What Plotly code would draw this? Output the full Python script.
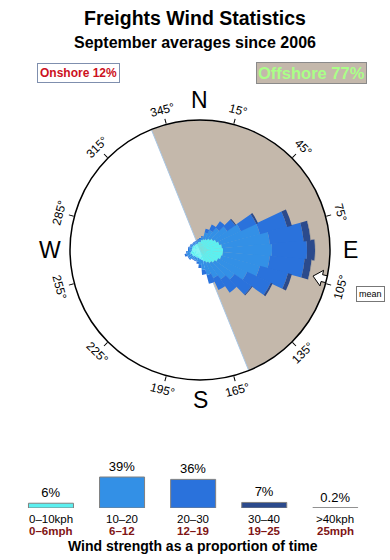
import math
import plotly.graph_objects as go

# ---------------- data ----------------
directions = list(range(0, 360, 10))  # compass direction wind blows from (deg)

# stacked rose segments per direction (relative frequency units)
spd_0_10 = [0.8, 1.0, 1.1, 1.2, 1.4, 1.6, 1.8, 2.0, 2.2, 2.3, 2.3, 2.2, 2.0, 1.8, 1.6, 1.4, 1.2, 1.0,
            0.9, 0.8, 0.8, 0.8, 0.8, 0.9, 0.9, 1.0, 0.9, 0.8, 0.8, 0.8, 0.8, 0.7, 0.7, 0.7, 0.7, 0.8]
spd_10_20 = [0.3, 0.3, 0.7, 1.0, 1.3, 1.7, 2.7, 4.2, 4.8, 4.9, 4.7, 4.0, 3.2, 2.4, 2.0, 1.7, 1.4, 1.0,
             0.6, 0.4, 0.3, 0.3, 0.3, 0.4, 0.4, 0.4, 0.4, 0.3, 0.3, 0.2, 0.2, 0.2, 0.2, 0.2, 0.2, 0.2]
spd_20_30 = [0.1, 0.1, 0.4, 0.6, 0.8, 1.0, 1.7, 2.8, 3.4, 3.5, 3.5, 2.9, 2.6, 2.1, 1.6, 1.3, 0.9, 0.5,
             0.3, 0.2, 0.1, 0.1, 0.1, 0.1, 0.1, 0.2, 0.1, 0.1, 0.1, 0.1, 0.1, 0.1, 0.1, 0.1, 0.1, 0.1]
spd_30_40 = [0.0, 0.0, 0.0, 0.0, 0.0, 0.1, 0.2, 0.5, 0.7, 0.8, 0.7, 0.4, 0.2, 0.1, 0.0, 0.0, 0.0, 0.0,
             0.0, 0.0, 0.0, 0.0, 0.0, 0.0, 0.0, 0.0, 0.0, 0.0, 0.0, 0.0, 0.0, 0.0, 0.0, 0.0, 0.0, 0.0]
spd_40_plus = [0.0, 0.0, 0.0, 0.0, 0.0, 0.0, 0.0, 0.0, 0.05, 0.05, 0.05, 0.0, 0.0, 0.0, 0.0, 0.0, 0.0, 0.0,
               0.0, 0.0, 0.0, 0.0, 0.0, 0.0, 0.0, 0.0, 0.0, 0.0, 0.0, 0.0, 0.0, 0.0, 0.0, 0.0, 0.0, 0.0]
rose_max = 13.0

offshore_from = 338   # offshore sector start (deg, clockwise)
offshore_to = 158     # offshore sector end
mean_dir = 103        # mean wind direction (deg)

onshore_pct = 12
offshore_pct = 77

tick_angles = [15, 45, 75, 105, 135, 165, 195, 225, 255, 285, 315, 345]
compass = [("N", 0), ("E", 90), ("S", 180), ("W", 270)]

speed_kph = ["0–10kph", "10–20", "20–30", "30–40", ">40kph"]
speed_mph = ["0–6mph", "6–12", "12–19", "19–25", "25mph"]
speed_pct = [6, 39, 36, 7, 0.2]
speed_colors = ["#5cf0f0", "#3390e6", "#2a72dc", "#2b4a8c", "#9a9a9a"]

# ---------------- layout constants ----------------
W, H = 390, 560
CX, CY, RPX = 200, 250, 130
FONT = "Liberation Sans, Arial, Helvetica, sans-serif"


def px(x):
    return x / W


def py(y):
    return 1 - y / H


fig = go.Figure()

# offshore sector
span = (offshore_to - offshore_from) % 360
mid = (offshore_from + span / 2) % 360
fig.add_trace(go.Barpolar(r=[rose_max], theta=[mid], width=[span],
                          marker=dict(color="#c4b8ab", line=dict(color="#a8c6e4", width=1)),
                          hoverinfo="skip", showlegend=False))

for vals, col in zip([spd_0_10, spd_10_20, spd_20_30, spd_30_40, spd_40_plus], speed_colors):
    fig.add_trace(go.Barpolar(r=vals, theta=directions, width=[10.5] * len(directions),
                              marker=dict(color=col, line=dict(width=0)),
                              hoverinfo="skip", showlegend=False))

# mean arrow: block arrow pointing toward centre, tip at 116 px radius
tip_px = 116
# (outward offset, tangential offset) in px
arrow_shape = [(0, 0), (9, 8), (9, 3.5), (19, 3.5), (19, -3.5), (9, -3.5), (9, -8), (0, 0)]
th = math.radians(mean_dir)
ar, at = [], []
for a, b in arrow_shape:
    x = (tip_px + a) * math.sin(th) + b * math.cos(th)
    y = (tip_px + a) * math.cos(th) - b * math.sin(th)
    ar.append(math.hypot(x, y) * rose_max / RPX)
    at.append(math.degrees(math.atan2(x, y)) % 360)
fig.add_trace(go.Scatterpolar(r=ar, theta=at, mode="lines", fill="toself", fillcolor="white",
                              line=dict(color="black", width=1), cliponaxis=False,
                              hoverinfo="skip", showlegend=False))

# bottom bars
fig.add_trace(go.Bar(x=list(range(len(speed_pct))), y=speed_pct, xaxis="x2", yaxis="y2",
                     width=0.633, marker=dict(color=speed_colors, line=dict(color="#808080", width=1)),
                     text=[f"{v:g}%" for v in speed_pct], textposition="outside",
                     textfont=dict(size=13, color="black", family=FONT), cliponaxis=False,
                     hoverinfo="skip", showlegend=False))

ann = []
ann.append(dict(text="<b>Freights Wind Statistics</b>", x=px(195), y=py(18), font=dict(size=19.5)))
ann.append(dict(text="<b>September averages since 2006</b>", x=px(195), y=py(43), font=dict(size=16)))
ann.append(dict(text=f"<b>Onshore {onshore_pct}%</b>", x=px(78), y=py(73),
                font=dict(size=12, color="#cc1122"), bgcolor="white", bordercolor="#7f8fae",
                borderwidth=1, borderpad=2))
ann.append(dict(text=f"<b>Offshore {offshore_pct}%</b>", x=px(311), y=py(73),
                font=dict(size=16.5, color="#aaff88"), bgcolor="#c4b8ab", bordercolor="#8a8a8a",
                borderwidth=1, borderpad=1))
ann.append(dict(text="mean", x=px(370), y=py(294), font=dict(size=9), bgcolor="white",
                bordercolor="#777", borderwidth=1, borderpad=2))

for name, a in compass:
    r = 150
    ann.append(dict(text=name, x=px(CX + r * math.sin(math.radians(a))),
                    y=py(CY - r * math.cos(math.radians(a))), font=dict(size=23)))

for a in tick_angles:
    r = 145
    rot = ((a + 90) % 180) - 90
    ann.append(dict(text=f"{a}°", x=px(CX + r * math.sin(math.radians(a))),
                    y=py(CY - r * math.cos(math.radians(a))), textangle=rot, font=dict(size=12)))

for i, (k, m) in enumerate(zip(speed_kph, speed_mph)):
    ann.append(dict(text=k, x=i, xref="x2", y=py(518.5), font=dict(size=11.5)))
    ann.append(dict(text=f"<b>{m}</b>", x=i, xref="x2", y=py(531), font=dict(size=11.5, color="#801515")))
ann.append(dict(text="<b>Wind strength as a proportion of time</b>", x=px(193), y=py(546), font=dict(size=14)))

for a in ann:
    a.setdefault("xref", "paper")
    a["yref"] = "paper"
    a["showarrow"] = False
    a["xanchor"] = "center"
    a["yanchor"] = "middle"
    f = a["font"]
    f.setdefault("family", FONT)
    f.setdefault("color", "black")

ymax = max(speed_pct) * 50 / 31
fig.update_layout(
    width=W, height=H, margin=dict(l=0, r=0, t=0, b=0),
    paper_bgcolor="white", plot_bgcolor="white",
    font=dict(family=FONT),
    polar=dict(
        domain=dict(x=[px(CX - RPX), px(CX + RPX)], y=[py(CY + RPX), py(CY - RPX)]),
        bgcolor="white", bargap=0, barmode="stack",
        radialaxis=dict(range=[0, rose_max], visible=False),
        angularaxis=dict(rotation=90, direction="clockwise", tickmode="array", tickvals=tick_angles,
                         ticks="outside", ticklen=5, tickcolor="black", showticklabels=False,
                         showgrid=False, showline=True, linecolor="black", linewidth=1.5),
    ),
    xaxis2=dict(domain=[0.0395, 0.951], range=[-0.5, 4.5], visible=False, anchor="y2"),
    yaxis2=dict(domain=[py(508), py(458)], range=[0, ymax], visible=False, anchor="x2"),
    annotations=ann,
    showlegend=False,
)

fig.write_html("out.html")
